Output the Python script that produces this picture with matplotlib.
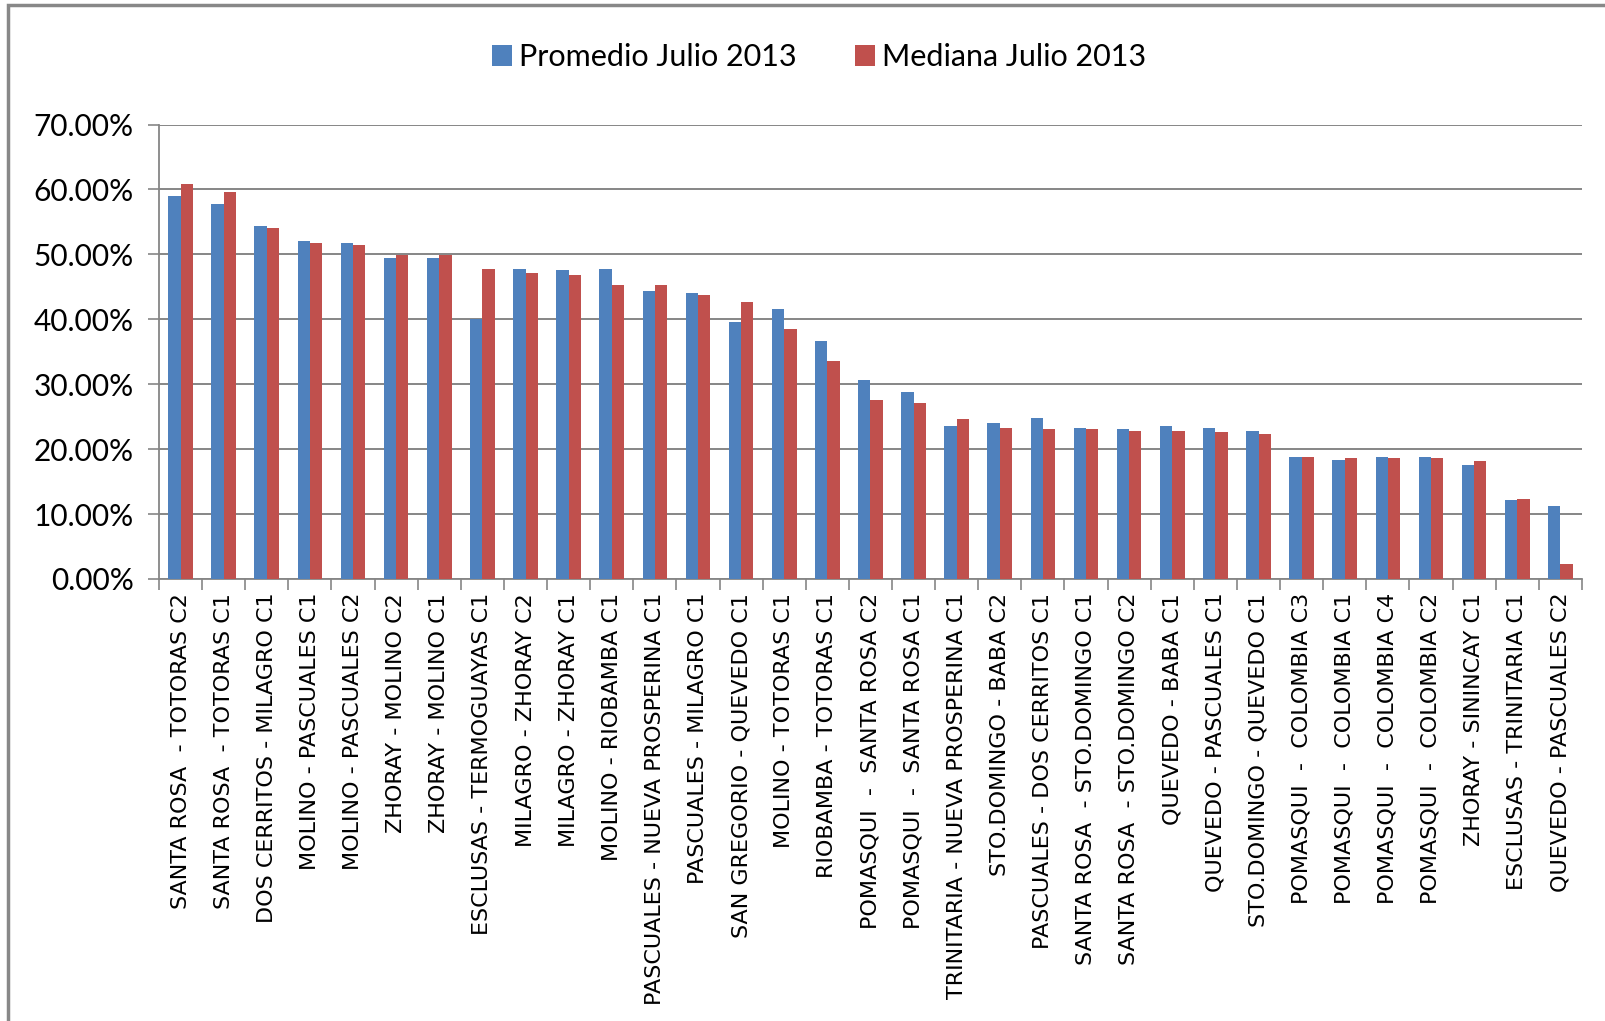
import matplotlib
matplotlib.use('Agg')
import matplotlib.pyplot as plt
import numpy as np
from matplotlib.ticker import FuncFormatter, MultipleLocator
from matplotlib.patches import Rectangle

# Datos
lineas = [
    'SANTA ROSA  - TOTORAS C2', 'SANTA ROSA  - TOTORAS C1', 'DOS CERRITOS - MILAGRO C1',
    'MOLINO - PASCUALES C1', 'MOLINO - PASCUALES C2', 'ZHORAY - MOLINO C2',
    'ZHORAY - MOLINO C1', 'ESCLUSAS - TERMOGUAYAS C1', 'MILAGRO - ZHORAY C2',
    'MILAGRO - ZHORAY C1', 'MOLINO - RIOBAMBA C1', 'PASCUALES - NUEVA PROSPERINA C1',
    'PASCUALES - MILAGRO C1', 'SAN GREGORIO - QUEVEDO C1', 'MOLINO - TOTORAS C1',
    'RIOBAMBA - TOTORAS C1', 'POMASQUI  -  SANTA ROSA C2', 'POMASQUI  -  SANTA ROSA C1',
    'TRINITARIA - NUEVA PROSPERINA C1', 'STO.DOMINGO - BABA C2', 'PASCUALES - DOS CERRITOS C1',
    'SANTA ROSA  - STO.DOMINGO C1', 'SANTA ROSA  - STO.DOMINGO C2', 'QUEVEDO - BABA C1',
    'QUEVEDO - PASCUALES C1', 'STO.DOMINGO - QUEVEDO C1', 'POMASQUI  -  COLOMBIA C3',
    'POMASQUI  -  COLOMBIA C1', 'POMASQUI  -  COLOMBIA C4', 'POMASQUI  -  COLOMBIA C2',
    'ZHORAY - SININCAY C1', 'ESCLUSAS - TRINITARIA C1', 'QUEVEDO - PASCUALES C2',
]
promedio = [59.0, 57.8, 54.3, 52.1, 51.8, 49.5, 49.5, 40.0, 47.8, 47.6, 47.8,
            44.3, 44.1, 39.6, 41.6, 36.6, 30.6, 28.8, 23.6, 24.0, 24.8, 23.3,
            23.1, 23.6, 23.3, 22.8, 18.8, 18.3, 18.8, 18.8, 17.6, 12.1, 11.3]
mediana = [60.8, 59.6, 54.1, 51.8, 51.5, 49.9, 49.9, 47.8, 47.1, 46.8, 45.3,
           45.3, 43.8, 42.6, 38.5, 33.6, 27.6, 27.1, 24.6, 23.3, 23.1, 23.1,
           22.8, 22.8, 22.6, 22.4, 18.8, 18.6, 18.6, 18.6, 18.1, 12.3, 2.3]

azul = '#4F81BD'
rojo = '#C0504D'

fig = plt.figure(figsize=(16.06, 10.21), dpi=100)
ax = fig.add_axes([0.099, 0.433, 0.886, 0.445])

x = np.arange(len(lineas))
ancho = 0.286
ax.bar(x - ancho / 2, promedio, ancho, color=azul, label='Promedio Julio 2013', zorder=3)
ax.bar(x + ancho / 2, mediana, ancho, color=rojo, label='Mediana Julio 2013', zorder=3)

ax.set_xlim(-0.5, len(lineas) - 0.5)
ax.set_ylim(0, 70)
ax.yaxis.set_major_locator(MultipleLocator(10))
ax.yaxis.set_major_formatter(FuncFormatter(lambda v, p: f'{v:.2f}%'))
ax.grid(axis='y', color='#868686', linewidth=1.4, zorder=0)

for lado in ['top', 'right']:
    ax.spines[lado].set_visible(False)
for lado in ['left', 'bottom']:
    ax.spines[lado].set_color('#868686')
    ax.spines[lado].set_linewidth(1.3)

# marcas en los limites de categoria
ax.set_xticks(np.arange(-0.5, len(lineas), 1.0))
ax.set_xticklabels([])
ax.set_xticks(x, minor=True)
ax.set_xticklabels(lineas, minor=True, rotation=90, fontsize=16,
                   family='DejaVu Sans', va='top', ha='center')
ax.tick_params(axis='x', which='minor', length=0, pad=10)
ax.tick_params(axis='x', which='major', length=8, color='#868686', width=1.2)
ax.tick_params(axis='y', length=8, color='#868686', width=1.2, pad=10)
for t in ax.get_yticklabels():
    t.set_family('Lato')
    t.set_fontsize(21.5)

leg = fig.legend(loc='center', bbox_to_anchor=(0.51, 0.944), ncol=2, frameon=False,
                 prop={'family': 'Lato', 'size': 22}, handlelength=0.65, handleheight=0.65,
                 handletextpad=0.25, columnspacing=1.9)

# borde gris del grafico
fig.patches.append(Rectangle((0.005, -0.01), 1.2, 1.005, transform=fig.transFigure,
                             fill=False, edgecolor='#888888', linewidth=2.5))

plt.savefig('out.png', dpi=100)
